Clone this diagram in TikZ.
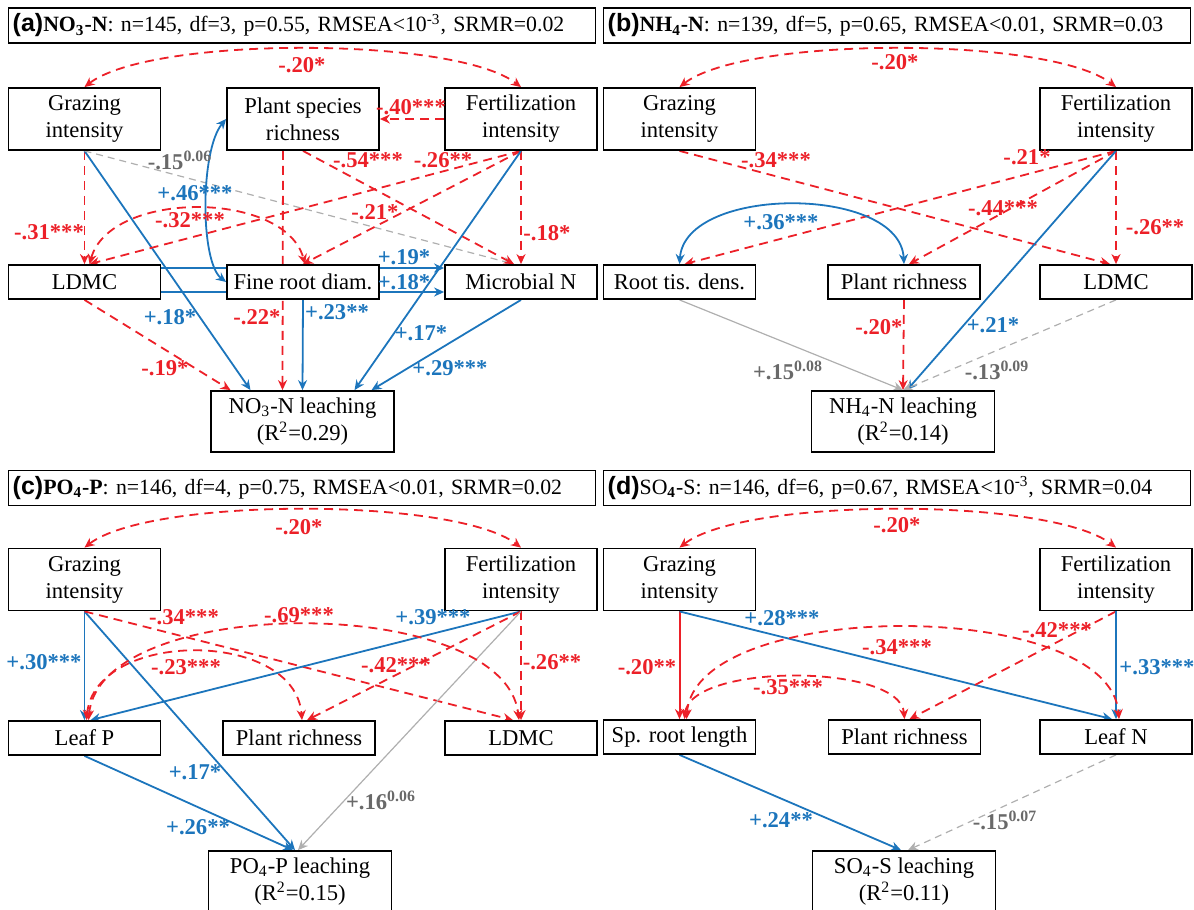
\documentclass[tikz,border=0pt]{standalone}
\usepackage{fontspec}
\setmainfont{Liberation Serif}
\setsansfont{Liberation Sans}
\usepackage{tikz}
\usetikzlibrary{arrows.meta, calc, backgrounds}

\definecolor{semred}{RGB}{236,32,40}
\definecolor{semblue}{RGB}{28,117,188}
\definecolor{semgrey}{RGB}{175,175,175}
\definecolor{semgreytxt}{RGB}{105,105,105}

\newcommand{\ptag}[1]{{\sffamily\bfseries\fontsize{12.5}{13}\selectfont(#1)}}

\tikzset{
    >={Stealth[length=5pt,width=4.5pt]},
    varbox/.style={draw, fill=white, line width=0.9pt, minimum width=76pt, inner sep=0pt, align=center, font=\fontsize{11.3}{13.5}\selectfont},
    twobox/.style={varbox, minimum height=31pt},
    onebox/.style={varbox, minimum height=17pt},
    respbox/.style={varbox, minimum width=91.5pt, minimum height=30.5pt},
    hdrbox/.style={draw, line width=0.7pt, anchor=west, text width=289.5pt, minimum height=17.5pt, inner sep=2pt, align=left, font=\fontsize{10.9}{13}\selectfont},
    negpath/.style={semred, line width=0.9pt, dash pattern=on 4.5pt off 3pt, ->},
    negline/.style={draw=semred, fill=semred, line width=1pt, ->},
    pospath/.style={semblue, line width=0.9pt, ->},
    nspath/.style={semgrey, line width=0.6pt, ->},
    nsdash/.style={nspath, dash pattern=on 3.5pt off 2.5pt},
    lneg/.style={text=semred, inner sep=0pt, font=\fontsize{11.3}{12}\selectfont\bfseries},
    lpos/.style={text=semblue, inner sep=0pt, font=\fontsize{11.3}{12}\selectfont\bfseries},
    lns/.style={text=semgreytxt, inner sep=0pt, font=\fontsize{11.3}{12}\selectfont\bfseries},
}

\begin{document}
\begin{tikzpicture}[x=0.5pt, y=-0.5pt]
    \useasboundingbox (0,0) rectangle (1194,910);

    % (a) NO3-N
    \node[hdrbox] (aH) at (8,25.5) {\ptag{a}\textbf{NO\textsubscript{3}-N}: n=145, df=3, p=0.55, RMSEA<10\textsuperscript{-3}, SRMR=0.02};
    \node[twobox] (aG) at (84.5,119) {Grazing\\intensity};
    \node[twobox] (aP) at (303,119) {Plant species\\richness};
    \node[twobox] (aF) at (521,119) {Fertilization\\intensity};
    \node[onebox] (aL) at (84.5,282) {LDMC};
    \node[onebox] (aR) at (303,282) {Fine root diam.};
    \node[onebox] (aM) at (521,282) {Microbial N};
    \node[respbox] (aY) at (302.5,421.5) {NO\textsubscript{3}-N leaching\\(R\textsuperscript{2}=0.29)};
    \begin{scope}[on background layer]
        \draw[negpath, <->] (aG.north) .. controls (150,36) and (455,36) .. (aF.north);
        \draw[negpath] (aG.south) -- (aL.north);
        \draw[pospath] (aG.south) -- ($(aY.north)+(-52,0)$);
        \draw[nsdash] (aG.south) -- ($(aM.north)+(-7,0)$);
        \draw[negpath] (aF.west) -- (aP.east);
        \draw[negpath] ($(aP.south)+(-20,0)$) -- ($(aY.north)+(-20,0)$);
        \draw[negpath] (aP.south) -- ($(aM.north)+(-7,0)$);
        \draw[negpath] (aF.south) -- ($(aL.north)+(5,0)$);
        \draw[negpath] (aF.south) -- (aR.north);
        \draw[negpath] (aF.south) -- (aM.north);
        \draw[pospath] (aF.south) -- ($(aY.north)+(52,0)$);
        \draw[pospath, <->] (aP.west) .. controls (200,150) and (200,262) .. (aR.west);
        \draw[negpath, <->] ($(aL.north)+(5,0)$) .. controls (110,190) and (285,190) .. ($(aR.north)+(2,0)$);
        \draw[pospath] ($(aL.east)+(0,-14)$) -- ($(aM.west)+(0,-14)$);
        \draw[pospath] ($(aL.east)+(0,10)$) -- ($(aM.west)+(0,10)$);
        \draw[pospath] (aR.south) -- (aY.north);
        \draw[negpath] (aL.south) -- ($(aY.north)+(-72,0)$);
        \draw[pospath] (aM.south) -- ($(aY.north)+(69,0)$);
    \end{scope}
    \foreach \t/\x/\y [count=\i] in {-.20*/302/65, -.40***/411/107, -.31***/49/232, -.32***/190/220,
        -.54***/368/160, -.26**/443/160, -.21*/375/212, -.18*/547/233, -.22*/257/317, -.19*/165/368} {
        \node[lneg] (an\i) at (\x,\y) {\t};
    }
    \foreach \t/\x/\y [count=\i] in {+.46***/195/193, +.19*/404/257, +.18*/404/282, +.18*/170/317,
        +.23**/337/312, +.17*/421/333, +.29***/450/368} {
        \node[lpos] (ap\i) at (\x,\y) {\t};
    }
    \node[lns] (ag1) at (180,160) {-.15\textsuperscript{0.06}};

    % (b) NH4-N
    \node[hdrbox] (bH) at (603,25.5) {\ptag{b}\textbf{NH\textsubscript{4}-N}: n=139, df=5, p=0.65, RMSEA<0.01, SRMR=0.03};
    \node[twobox] (bG) at (679.5,119) {Grazing\\intensity};
    \node[twobox] (bF) at (1116,119) {Fertilization\\intensity};
    \node[onebox] (bT) at (679.5,282) {Root tis. dens.};
    \node[onebox] (bP) at (904,282) {Plant richness};
    \node[onebox] (bL) at (1116,282) {LDMC};
    \node[respbox] (bY) at (903,421.5) {NH\textsubscript{4}-N leaching\\(R\textsuperscript{2}=0.14)};
    \begin{scope}[on background layer]
        \draw[negpath, <->] (bG.north) .. controls (745,36) and (1050,36) .. (bF.north);
        \draw[negpath] (bG.south) -- ($(bL.north)+(-6,0)$);
        \draw[negpath] (bF.south) -- ($(bT.north)+(5,0)$);
        \draw[negpath] (bF.south) -- ($(bP.north)+(5,0)$);
        \draw[negpath] (bF.south) -- (bL.north);
        \draw[pospath] (bF.south) -- ($(bY.north)+(4,0)$);
        \draw[pospath, <->] (bT.north) .. controls (685,185) and (900,185) .. (bP.north);
        \draw[negpath] (bP.south) -- (bY.north);
        \draw[nspath] (bT.south) -- (bY.north);
        \draw[nsdash] (bL.south) -- (bY.north);
    \end{scope}
    \foreach \t/\x/\y [count=\i] in {-.20*/895/62, -.34***/776/160, -.21*/1027/157, -.44***/1003/208,
        -.26**/1155/227, -.20*/879/327} {
        \node[lneg] (bn\i) at (\x,\y) {\t};
    }
    \foreach \t/\x/\y [count=\i] in {+.36***/781/222, +.21*/993/325} {
        \node[lpos] (bp\i) at (\x,\y) {\t};
    }
    \node[lns] (bg1) at (788,370) {+.15\textsuperscript{0.08}};
    \node[lns] (bg2) at (997,370) {-.13\textsuperscript{0.09}};

    % (c) PO4-P
    \node[hdrbox] (cH) at (8,488) {\ptag{c}\textbf{PO\textsubscript{4}-P}: n=146, df=4, p=0.75, RMSEA<0.01, SRMR=0.02};
    \node[twobox] (cG) at (84.5,579.5) {Grazing\\intensity};
    \node[twobox] (cF) at (521,579.5) {Fertilization\\intensity};
    \node[onebox] (cLP) at (84.5,738) {Leaf P};
    \node[onebox] (cP) at (299,738) {Plant richness};
    \node[onebox] (cL) at (521,738) {LDMC};
    \node[respbox] (cY) at (300,881.5) {PO\textsubscript{4}-P leaching\\(R\textsuperscript{2}=0.15)};
    \begin{scope}[on background layer]
        \draw[negpath, <->] (cG.north) .. controls (150,497) and (455,497) .. (cF.north);
        \draw[pospath] (cG.south) -- (cLP.north);
        \draw[pospath] (cG.south) -- ($(cY.north)+(-5,0)$);
        \draw[negpath] (cG.south) -- ($(cL.north)+(-8,0)$);
        \draw[pospath] (cF.south) -- ($(cLP.north)+(6,0)$);
        \draw[negpath] (cF.south) -- ($(cP.north)+(8,0)$);
        \draw[negpath] (cF.south) -- (cL.north);
        \draw[nspath] (cF.south) -- ($(cY.north)+(-2,0)$);
        \draw[negpath, <->] ($(cLP.north)+(2,0)$) .. controls (95,629) and (295,629) .. ($(cP.north)+(3,0)$);
        \draw[negpath, <->] ($(cLP.north)+(4,0)$) .. controls (100,593) and (505,593) .. ($(cL.north)+(-2,0)$);
        \draw[pospath] (cLP.south) -- ($(cY.north)+(-7,0)$);
    \end{scope}
    \foreach \t/\x/\y [count=\i] in {-.20*/299/527, -.34***/184/617, -.69***/299/615, -.23***/186/667,
        -.42***/396/665, -.26**/552/662} {
        \node[lneg] (cn\i) at (\x,\y) {\t};
    }
    \foreach \t/\x/\y [count=\i] in {+.30***/44/662, +.39***/433/617, +.17*/195/772, +.26**/198/827} {
        \node[lpos] (cp\i) at (\x,\y) {\t};
    }
    \node[lns] (cg1) at (381,800) {+.16\textsuperscript{0.06}};

    % (d) SO4-S
    \node[hdrbox] (dH) at (603,488) {\ptag{d}SO\textsubscript{\textbf{4}}-S: n=146, df=6, p=0.67, RMSEA<10\textsuperscript{-3}, SRMR=0.04};
    \node[twobox] (dG) at (679.5,579.5) {Grazing\\intensity};
    \node[twobox] (dF) at (1116,579.5) {Fertilization\\intensity};
    \node[onebox] (dS) at (679.5,737) {Sp. root length};
    \node[onebox] (dP) at (904.5,737) {Plant richness};
    \node[onebox] (dN) at (1116,737) {Leaf N};
    \node[respbox] (dY) at (904,881.5) {SO\textsubscript{4}-S leaching\\(R\textsuperscript{2}=0.11)};
    \begin{scope}[on background layer]
        \draw[negpath, <->] (dG.north) .. controls (745,497) and (1050,497) .. (dF.north);
        \draw[negline] (dG.south) -- (dS.north);
        \draw[pospath] (dG.south) -- ($(dN.north)+(-4,0)$);
        \draw[negpath] (dF.south) -- ($(dP.north)+(5,0)$);
        \draw[pospath] (dF.south) -- (dN.north);
        \draw[negpath, <->] ($(dS.north)+(5,0)$) .. controls (690,663) and (900,663) .. (dP.north);
        \draw[negpath, <->] ($(dS.north)+(7,0)$) .. controls (695,597) and (1110,597) .. ($(dN.north)+(3,0)$);
        \draw[pospath] (dS.south) -- ($(dY.north)+(-3,0)$);
        \draw[nsdash] (dN.south) -- ($(dY.north)+(4,0)$);
    \end{scope}
    \foreach \t/\x/\y [count=\i] in {-.20*/897/525, -.20**/647/667, -.42***/1057/630, -.34***/897/647,
        -.35***/788/687} {
        \node[lneg] (dn\i) at (\x,\y) {\t};
    }
    \foreach \t/\x/\y [count=\i] in {+.28***/782/618, +.33***/1157/667, +.24**/781/820} {
        \node[lpos] (dp\i) at (\x,\y) {\t};
    }
    \node[lns] (dg1) at (1005,820) {-.15\textsuperscript{0.07}};
\end{tikzpicture}
\end{document}
